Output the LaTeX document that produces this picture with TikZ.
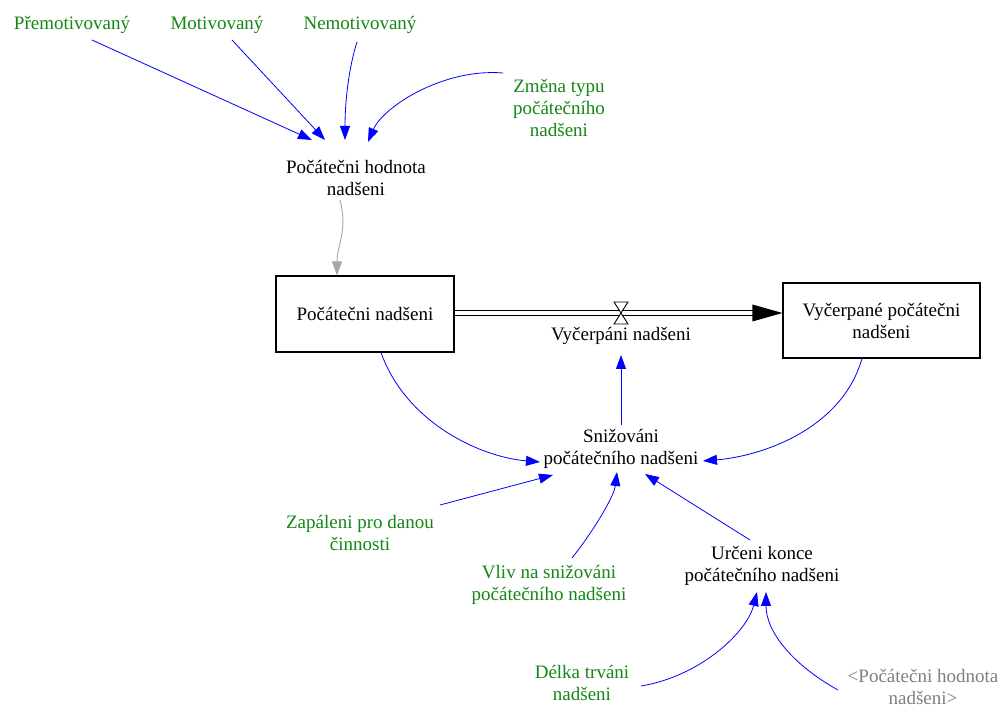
\documentclass[tikz,border=0pt]{standalone}
\usepackage{fontspec}
\setmainfont{Liberation Serif}
\usetikzlibrary{arrows.meta}
\definecolor{vargreen}{RGB}{20,135,20}
\definecolor{linkblue}{RGB}{0,0,255}
\definecolor{shadowgray}{RGB}{128,128,128}
\begin{document}
\begin{tikzpicture}[x=1pt,y=-1pt,
  lbl/.style={align=center,inner sep=0pt,font=\fontsize{19}{22}\selectfont},
  exo/.style={lbl,text=vargreen},
  aux/.style={lbl,text=black},
  ghostvar/.style={lbl,text=shadowgray},
  stock/.style={lbl,draw=black,line width=1.1pt,minimum width=178pt,minimum height=76pt},
  link/.style={draw=linkblue,line width=0.8pt,-{Triangle[length=14pt,width=10pt]},color=linkblue},
  glink/.style={draw=shadowgray!70,line width=0.9pt,-{Triangle[length=14pt,width=10pt]},color=shadowgray!70}]
\fill[white] (0,0) rectangle (1005,708);
\useasboundingbox (0,0) rectangle (1005,708);

% variables
\node[exo] (prem) at (72,25) {Přemotivovaný};
\node[exo] (mot) at (217,25) {Motivovaný};
\node[exo] (nemot) at (360,25) {Nemotivovaný};
\node[exo] (zmena) at (559,108) {Změna typu\\počátečního\\nadšeni};
\node[aux] (hod) at (356,178) {Počátečni hodnota\\nadšeni};
\node[stock] (pn) at (365,314) {Počátečni nadšeni};
\node[stock,minimum width=197pt,minimum height=75pt] (vp) at (881.5,320.5) {Vyčerpané počátečni\\nadšeni};
\node[aux] (vyc) at (621,336) {Vyčerpáni nadšeni};
\coordinate (valve) at (621,313);
\node[aux] (sniz) at (621,449) {Snižováni\\počátečního nadšeni};
\node[exo] (zap) at (360,533) {Zapáleni pro danou\\činnosti};
\node[exo] (vliv) at (549,585) {Vliv na snižováni\\počátečního nadšeni};
\node[aux] (urc) at (762,566) {Určeni konce\\počátečního nadšeni};
\node[exo] (delka) at (582,683) {Délka trváni\\nadšeni};
\node[ghostvar] (ghost) at (923,687) {<Počátečni hodnota\\nadšeni>};

% links into the initial value
\draw[link] ([shift={(20,15)}]prem.center) -- ([shift={(-44,-38)}]hod.center);
\draw[link] ([shift={(15,15)}]mot.center) -- ([shift={(-31,-38)}]hod.center);
\draw[link] ([shift={(-3,17)}]nemot.center) .. controls +(-8,25) and +(0,-40) .. ([shift={(-11,-38)}]hod.center);
\draw[link] ([shift={(-56,-35)}]zmena.center) .. controls +(-60,-5) and +(15,-35) .. ([shift={(12,-36)}]hod.center);
\draw[glink] ([shift={(-16,22)}]hod.center) .. controls +(8,30) and +(0,-30) .. ([shift={(-28,0)}]pn.north);

% flow pipe with valve
\draw[black,line width=1pt] ([shift={(0,-3.5)}]pn.east) -- ([shift={(-22,-10)}]vp.west);
\draw[black,line width=1pt] ([shift={(0,1.5)}]pn.east) -- ([shift={(-22,-5)}]vp.west);
\fill[black] ([shift={(0,-7.5)}]vp.west) -- ([shift={(-30,-16)}]vp.west) -- ([shift={(-30,1)}]vp.west) -- cycle;
\filldraw[fill=white,draw=black,line width=0.9pt]
  ([shift={(-7,-11)}]valve) -- ([shift={(7,-11)}]valve) -- (valve) -- cycle;
\filldraw[fill=white,draw=black,line width=0.9pt]
  ([shift={(-7,11)}]valve) -- ([shift={(7,11)}]valve) -- (valve) -- cycle;

% links around the depletion rate
\draw[link] ([shift={(16,0)}]pn.south) .. controls +(25,70) and +(-60,-5) .. ([shift={(-81,13)}]sniz.center);
\draw[link] ([shift={(-19.5,0)}]vp.south) .. controls +(-20,70) and +(60,-5) .. ([shift={(82,12)}]sniz.center);
\draw[link] ([shift={(0,-24)}]sniz.center) -- ([shift={(0,19)}]vyc.center);
\draw[link] ([shift={(80,-28)}]zap.center) -- ([shift={(-68,26)}]sniz.center);
\draw[link] ([shift={(23,-27)}]vliv.center) .. controls +(20,-25) and +(-3,25) .. ([shift={(-4,23)}]sniz.center);
\draw[link] ([shift={(-12,-26)}]urc.center) -- ([shift={(24,25)}]sniz.center);
\draw[link] ([shift={(59,3)}]delka.center) .. controls +(60,-10) and +(-10,40) .. ([shift={(-5,26)}]urc.center);
\draw[link] ([shift={(-85,3)}]ghost.center) .. controls +(-45,-25) and +(0,40) .. ([shift={(4,26)}]urc.center);
\end{tikzpicture}
\end{document}
